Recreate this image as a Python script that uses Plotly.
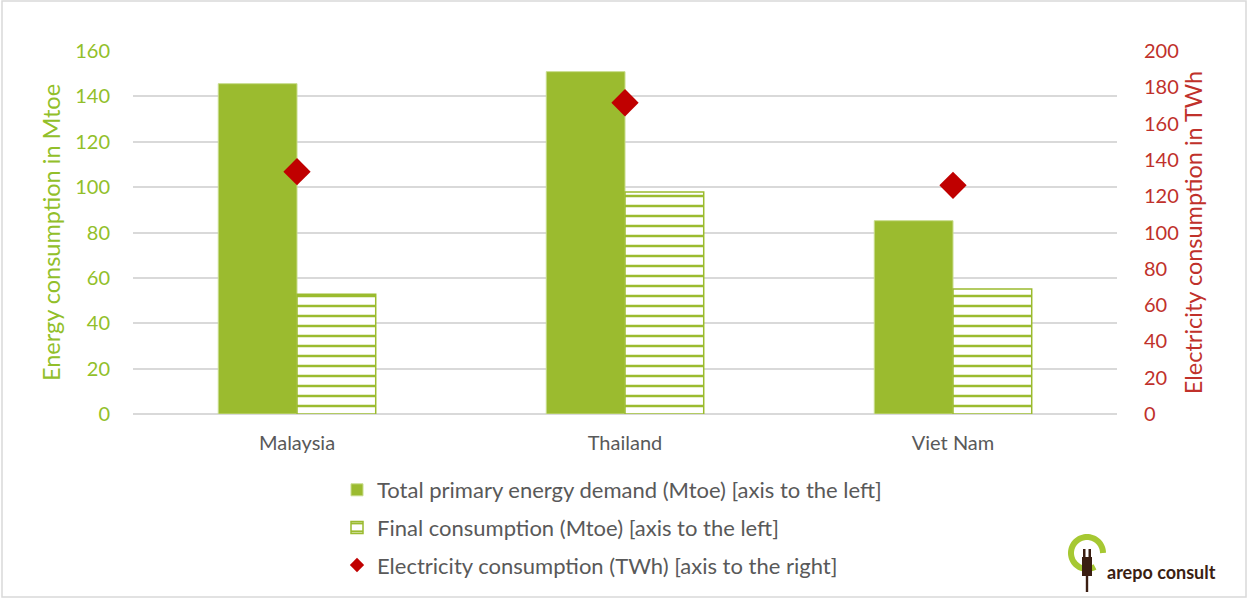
import math
import plotly.graph_objects as go

# Data
countries = ["Malaysia", "Thailand", "Viet Nam"]
primary_demand_mtoe = [145.6, 150.9, 85.2]
final_consumption_mtoe = [52.8, 97.8, 55.1]
electricity_twh = [133.5, 171.5, 126.0]

left_ticks = [0, 20, 40, 60, 80, 100, 120, 140, 160]
right_ticks = [0, 20, 40, 60, 80, 100, 120, 140, 160, 180, 200]

GREEN = "#9BBB2F"
GREEN_TEXT = "#92BF2A"
RED = "#C00000"
RED_TEXT = "#C0312B"
GREY_TEXT = "#595959"
GRID = "#D9D9D9"
FONT = "Lato, 'Open Sans', sans-serif"

W, H = 1248, 598
ML, MR, MT, MB = 133, 131, 51, 184
PW, PH = W - ML - MR, H - MT - MB

ELEC_NAME = "Electricity consumption (TWh) [axis to the right]"

fig = go.Figure()

fig.add_trace(go.Bar(
    x=countries, y=primary_demand_mtoe,
    name="Total primary energy demand (Mtoe) [axis to the left]",
    marker=dict(color=GREEN, line=dict(color="#C8DC8C", width=1)),
    legendgroup="a",
))
fig.add_trace(go.Bar(
    x=countries, y=final_consumption_mtoe,
    name="Final consumption (Mtoe) [axis to the left]",
    marker=dict(
        color="white",
        line=dict(color=GREEN, width=1.5),
        pattern=dict(shape="-", fgcolor=GREEN, bgcolor="white",
                     size=10, solidity=0.25, fillmode="replace"),
    ),
    legendgroup="b",
))
fig.add_trace(go.Scatter(
    x=countries, y=electricity_twh, yaxis="y2", mode="markers",
    name=ELEC_NAME, showlegend=False,
    marker=dict(symbol="diamond", size=21, color=RED),
    legendgroup="c",
))
# smaller swatch for the legend entry of the electricity series
fig.add_trace(go.Scatter(
    x=[None], y=[None], yaxis="y2", mode="markers",
    name=ELEC_NAME, legendgroup="c",
    marker=dict(symbol="diamond", size=11, color=RED),
))


def xp(px):
    return (px - ML) / PW


def yp(py):
    return (H - MB - py) / PH


# Logo: green ring with plug, and wordmark
cx, cy, r = 1087.0, 553.0, 16.0
pts = []
for i in range(0, 61):
    ang = math.radians(-60 - i * (360 - 60) / 60)
    pts.append((cx + r * math.cos(ang), cy - r * math.sin(ang)))
path = "M " + " L ".join(f"{xp(x):.5f},{yp(y):.5f}" for x, y in pts)
BROWN = "#3B1E12"
shapes = [
    dict(type="path", xref="paper", yref="paper", path=path,
         line=dict(color="#A6C832", width=6)),
    dict(type="rect", xref="paper", yref="paper",
         x0=xp(1082), x1=xp(1092), y0=yp(576), y1=yp(557),
         fillcolor=BROWN, line=dict(width=0)),
    dict(type="rect", xref="paper", yref="paper",
         x0=xp(1083), x1=xp(1085.5), y0=yp(557), y1=yp(549),
         fillcolor=BROWN, line=dict(width=0)),
    dict(type="rect", xref="paper", yref="paper",
         x0=xp(1088.5), x1=xp(1091), y0=yp(557), y1=yp(549),
         fillcolor=BROWN, line=dict(width=0)),
    dict(type="rect", xref="paper", yref="paper",
         x0=xp(1085.8), x1=xp(1088.2), y0=yp(592), y1=yp(576),
         fillcolor=BROWN, line=dict(width=0)),
    # chart frame
    dict(type="rect", xref="paper", yref="paper",
         x0=xp(2), x1=xp(W - 2), y0=yp(H - 1), y1=yp(1),
         line=dict(color="#D9D9D9", width=1.5), fillcolor="rgba(0,0,0,0)"),
]

fig.update_layout(
    width=W, height=H,
    margin=dict(l=ML, r=MR, t=MT, b=MB, autoexpand=False),
    paper_bgcolor="white", plot_bgcolor="white",
    font=dict(family=FONT, size=20, color=GREY_TEXT),
    barmode="group", bargap=0.52, bargroupgap=0,
    xaxis=dict(
        showgrid=False, showline=False, zeroline=False,
        tickfont=dict(size=20, color=GREY_TEXT), ticks="",
        ticklabelstandoff=15,
    ),
    yaxis=dict(
        range=[0, 160], tickvals=left_ticks, showgrid=True,
        gridcolor=GRID, gridwidth=1.5, zeroline=True, zerolinecolor=GRID,
        zerolinewidth=1.5, showline=False, ticks="",
        tickfont=dict(size=20, color=GREEN_TEXT), ticklabelstandoff=22,
        title=dict(text="Energy consumption in Mtoe", standoff=7,
                   font=dict(size=23.5, color=GREEN_TEXT)),
    ),
    yaxis2=dict(
        range=[0, 200], tickvals=right_ticks, overlaying="y", side="right",
        showgrid=False, zeroline=False, showline=False, ticks="",
        tickfont=dict(size=20, color=RED_TEXT), ticklabelstandoff=26,
        title=dict(text="Electricity consumption in TWh", standoff=7,
                   font=dict(size=23.5, color=RED_TEXT)),
    ),
    legend=dict(
        x=xp(337), y=yp(469),
        xanchor="left", yanchor="top", orientation="v",
        font=dict(size=22, color=GREY_TEXT), tracegroupgap=6,
        itemwidth=30, bgcolor="rgba(0,0,0,0)",
    ),
    shapes=shapes,
    annotations=[
        dict(text="<b>arepo consult</b>", xref="paper", yref="paper",
             x=xp(1105), y=yp(572), xanchor="left", yanchor="middle",
             showarrow=False, font=dict(size=18, color=BROWN, family=FONT)),
    ],
)

fig.write_html("out.html")
